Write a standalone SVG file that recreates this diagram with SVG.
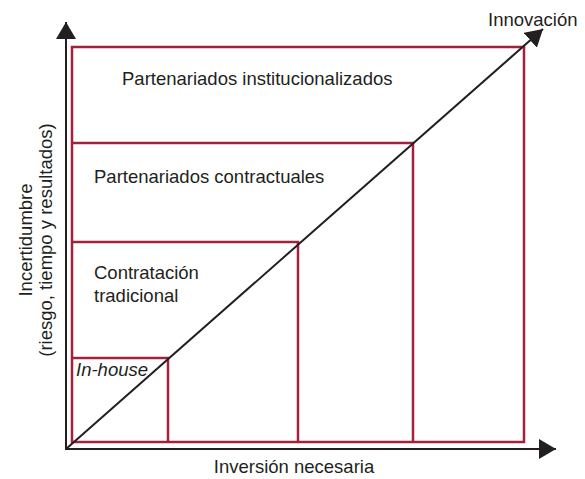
<svg xmlns="http://www.w3.org/2000/svg" width="585" height="479" viewBox="0 0 585 479">
<defs>
<style>
.t{font-family:"Liberation Sans",Arial,sans-serif;font-size:18.5px;fill:#231f20}
.r{fill:none;stroke:#a3213a;stroke-width:2.5}
.ax{fill:none;stroke:#231f20;stroke-width:2}
</style>
<marker id="ah" viewBox="0 0 17 20" refX="17" refY="10" markerWidth="17" markerHeight="20" markerUnits="userSpaceOnUse" orient="auto">
<path d="M0,0 L17,10 L0,20 Z" fill="#231f20"/>
</marker>
</defs>
<rect width="585" height="479" fill="#ffffff"/>
<g id="nodes">
<g id="institucionalizados">
<rect class="r" x="72" y="47" width="452" height="395"/>
<text class="t" x="122" y="85">Partenariados institucionalizados</text>
</g>
<g id="contractuales">
<polyline class="r" points="72,143 413,143 413,442"/>
<text class="t" x="94" y="183">Partenariados contractuales</text>
</g>
<g id="tradicional">
<polyline class="r" points="72,242 298,242 298,442"/>
<text class="t" x="94" y="279">Contratación</text>
<text class="t" x="94" y="302">tradicional</text>
</g>
<g id="inhouse">
<polyline class="r" points="72,358 168,358 168,442"/>
<text class="t" x="76" y="376" font-style="italic">In-house</text>
</g>
</g>
<g id="connectors">
<line class="ax" x1="66" y1="449" x2="66" y2="22" marker-end="url(#ah)"/>
<line class="ax" x1="65" y1="449" x2="556" y2="449" marker-end="url(#ah)"/>
<line class="ax" x1="66" y1="449" x2="543" y2="29" marker-end="url(#ah)"/>
</g>
<g id="labels">
<text class="t" x="488" y="26">Innovación</text>
<text class="t" x="294" y="473" text-anchor="middle">Inversión necesaria</text>
<text class="t" transform="translate(32,240) rotate(-90)" text-anchor="middle">Incertidumbre</text>
<text class="t" transform="translate(52,240) rotate(-90)" text-anchor="middle">(riesgo, tiempo y resultados)</text>
</g>
</svg>
